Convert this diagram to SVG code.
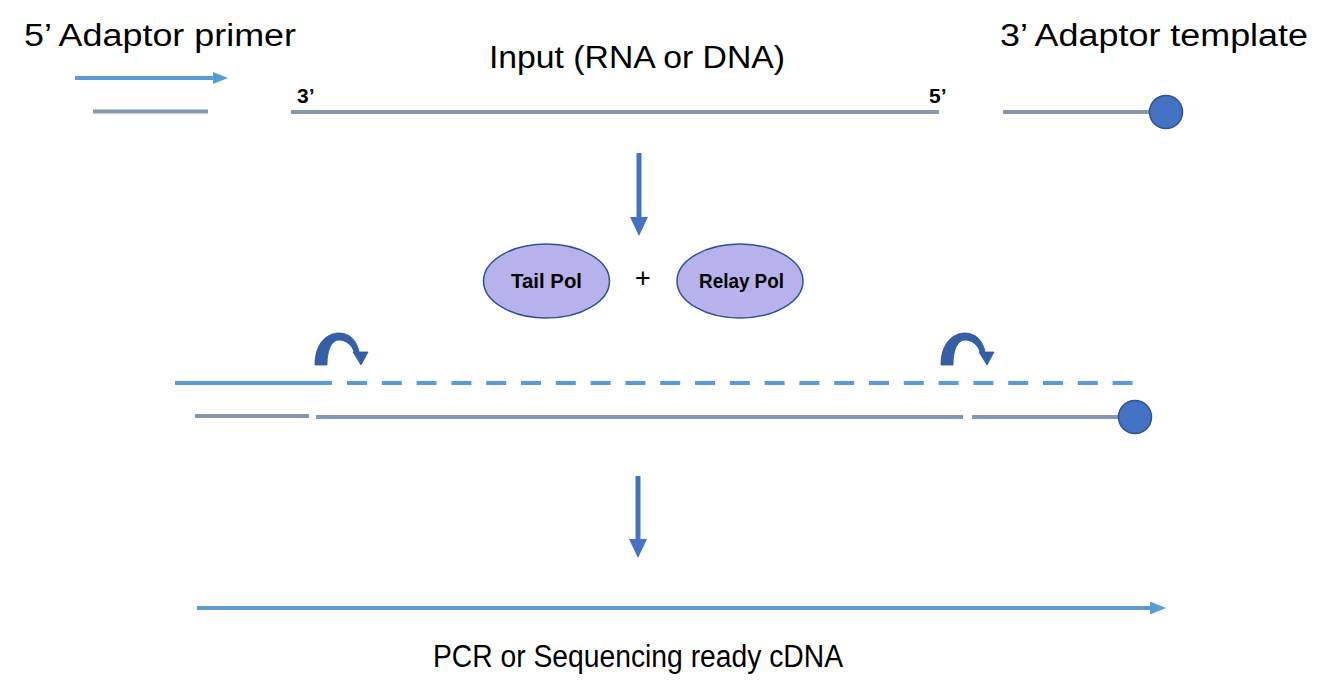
<svg xmlns="http://www.w3.org/2000/svg" width="1334" height="700" viewBox="0 0 1334 700">
<style>
.lbl{font-family:"Liberation Sans",Arial,sans-serif;font-size:31px;fill:#000}
.end{font-family:"Liberation Sans",Arial,sans-serif;font-size:21px;font-weight:bold;fill:#000}
.pol{font-family:"Liberation Sans",Arial,sans-serif;font-size:21px;font-weight:bold;fill:#000}
.blue{stroke:#5B9BD5;stroke-width:4;fill:none}
.grey{stroke:#8497B0;stroke-width:4;fill:none}
.dot{fill:#4472C4;stroke:#2F528F;stroke-width:1.5}
.ell{fill:#B8B2EC;stroke:#2F528F;stroke-width:1.5}
.down{stroke:#4472C4;stroke-width:5;fill:none}
.curl{fill:#3560A8;stroke:#2F528F;stroke-width:0.8}
</style>
<defs>
<path id="curl" d="M315,365 C315,343 327,333 339,333 C350,333 357,341 359,352 L368,352 L361,365 L353,352 L354,352 C352,345 346,340 339,340 C332,340 327,349 327,365 Z"/>
</defs>
<g id="label-primer"><text class="lbl" x="24" y="46" textLength="272" lengthAdjust="spacingAndGlyphs">5’ Adaptor primer</text></g>
<g id="label-input"><text class="lbl" x="489" y="68" textLength="296" lengthAdjust="spacingAndGlyphs">Input (RNA or DNA)</text></g>
<g id="label-template"><text class="lbl" x="1000" y="46" textLength="308" lengthAdjust="spacingAndGlyphs">3’ Adaptor template</text></g>
<g id="primer">
<line class="blue" x1="75" y1="78" x2="215" y2="78"/>
<polygon points="213,72 228,78 213,84" fill="#5B9BD5"/>
<line class="grey" x1="93" y1="111.5" x2="208" y2="111.5"/>
</g>
<g id="input">
<text class="end" x="297" y="103">3’</text>
<text class="end" x="929" y="103">5’</text>
<line class="grey" x1="291" y1="112" x2="939" y2="112"/>
</g>
<g id="template">
<line class="grey" x1="1003" y1="112" x2="1160" y2="112"/>
<circle class="dot" cx="1166" cy="112" r="16.5"/>
</g>
<g id="tail-pol">
<ellipse class="ell" cx="546.5" cy="281" rx="63" ry="37"/>
<text class="pol" x="511" y="288" textLength="71" lengthAdjust="spacingAndGlyphs">Tail Pol</text>
</g>
<g id="plus"><text x="643" y="287" font-family="Liberation Sans, Arial, sans-serif" font-size="27" text-anchor="middle">+</text></g>
<g id="relay-pol">
<ellipse class="ell" cx="740" cy="281" rx="63" ry="37"/>
<text class="pol" x="699" y="288" textLength="85" lengthAdjust="spacingAndGlyphs">Relay Pol</text>
</g>
<g id="intermediate">
<line class="blue" x1="175" y1="383" x2="332" y2="383"/>
<line class="blue" x1="347" y1="383" x2="1133" y2="383" stroke-dasharray="20 14.8"/>
<line class="grey" x1="195" y1="416" x2="309" y2="416"/>
<line class="grey" x1="316" y1="417" x2="963" y2="417"/>
<line class="grey" x1="972" y1="417" x2="1130" y2="417"/>
<circle class="dot" cx="1135" cy="417" r="16.5"/>
<use href="#curl" class="curl"/>
<use href="#curl" class="curl" transform="translate(626,0)"/>
</g>
<g id="product">
<line class="blue" x1="197" y1="608" x2="1152" y2="608"/>
<polygon points="1150,601.5 1166,608 1150,614.5" fill="#5B9BD5"/>
<text class="lbl" x="433" y="667" textLength="410" lengthAdjust="spacingAndGlyphs">PCR or Sequencing ready cDNA</text>
</g>
<g id="connectors">
<line class="down" x1="639" y1="153" x2="639" y2="220"/>
<polygon points="630,217 648,217 639,236" fill="#4472C4"/>
<line class="down" x1="638" y1="476" x2="638" y2="542"/>
<polygon points="629,539 647,539 638,558" fill="#4472C4"/>
</g>
</svg>
